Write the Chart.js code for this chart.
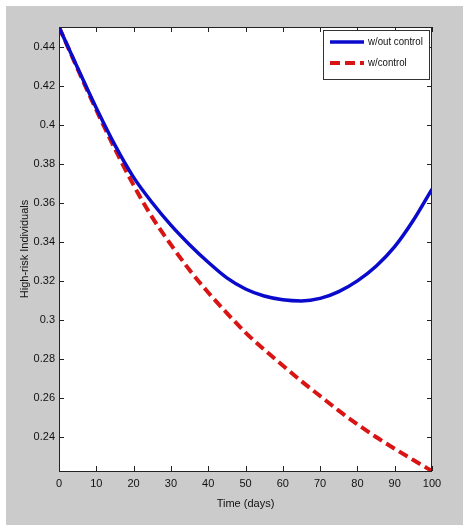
<!DOCTYPE html>
<html>
<head>
<meta charset="utf-8">
<script src="https://cdn.jsdelivr.net/npm/chart.js@4.4.0/dist/chart.umd.min.js"></script>
<style>
  html, body { margin: 0; padding: 0; background: #fff; }
  #wrap { width: 463px; height: 527px; }
</style>
</head>
<body>
<div id="wrap"><canvas id="myChart" width="463" height="527"></canvas></div>
<script>
// dias
const dias = [0, 5, 10, 15, 20, 25, 30, 35, 40, 45, 50, 55, 60, 65, 70, 75, 80, 85, 90, 95, 100];
// sem controle (azul)
const semControle = [0.4500, 0.4290, 0.4085, 0.3895, 0.3730, 0.3600, 0.3485, 0.3385, 0.3295, 0.3215, 0.3158,
  0.3122, 0.3103, 0.3097, 0.3110, 0.3145, 0.3200, 0.3275, 0.3375, 0.3510, 0.3670];
// com controle (vermelho)
const comControle = [0.4500, 0.4285, 0.4075, 0.3875, 0.3690, 0.3525, 0.3385, 0.3255, 0.3140, 0.3035, 0.2935,
  0.2848, 0.2766, 0.2686, 0.2610, 0.2535, 0.2465, 0.2400, 0.2340, 0.2282, 0.2226];
const yTicks = [0.24, 0.26, 0.28, 0.3, 0.32, 0.34, 0.36, 0.38, 0.4, 0.42, 0.44];
const nomes = ["w/out control", "w/control"];

const fonte = "'Liberation Sans', Arial, sans-serif";
const pontos = (ys) => dias.map((d, i) => ({ x: d, y: ys[i] }));

// fundo cinza + ticks internos + caixa + legenda
const moldura = {
  id: "moldura",
  beforeDraw(chart) {
    const ctx = chart.ctx;
    ctx.save();
    ctx.fillStyle = "#fff";
    ctx.fillRect(0, 0, chart.width, chart.height);
    ctx.fillStyle = "#cbcbcb";
    ctx.fillRect(6, 6, chart.width - 6, chart.height - 8);
    const a = chart.chartArea;
    ctx.fillStyle = "#fff";
    ctx.fillRect(a.left, a.top, a.right - a.left, a.bottom - a.top);
    ctx.restore();
  },
  afterDraw(chart) {
    const ctx = chart.ctx;
    const a = chart.chartArea;
    const sx = chart.scales.x, sy = chart.scales.y;
    ctx.save();
    ctx.strokeStyle = "#222";
    ctx.lineWidth = 1;
    ctx.beginPath();
    sx.ticks.forEach((t) => {
      const px = Math.round(sx.getPixelForValue(t.value)) + 0.5;
      ctx.moveTo(px, a.bottom); ctx.lineTo(px, a.bottom - 5);
      ctx.moveTo(px, a.top); ctx.lineTo(px, a.top + 5);
    });
    sy.ticks.forEach((t) => {
      const py = Math.round(sy.getPixelForValue(t.value)) + 0.5;
      ctx.moveTo(a.left, py); ctx.lineTo(a.left + 5, py);
      ctx.moveTo(a.right, py); ctx.lineTo(a.right - 5, py);
    });
    ctx.stroke();
    ctx.strokeRect(a.left + 0.5, a.top + 0.5, a.right - a.left - 1, a.bottom - a.top);

    // legenda
    const lx = 323, ly = 30, lw = 106, lh = 49;
    ctx.fillStyle = "#fff";
    ctx.fillRect(lx, ly, lw, lh);
    ctx.strokeStyle = "#333";
    ctx.strokeRect(lx + 0.5, ly + 0.5, lw, lh);
    chart.data.datasets.forEach((ds, i) => {
      const yy = ly + 12 + i * 21;
      ctx.strokeStyle = ds.borderColor;
      ctx.lineWidth = ds.borderWidth;
      ctx.setLineDash(ds.borderDash || []);
      ctx.beginPath();
      ctx.moveTo(lx + 7, yy); ctx.lineTo(lx + 41, yy);
      ctx.stroke();
      ctx.setLineDash([]);
      ctx.fillStyle = "#111";
      ctx.font = "11px " + fonte;
      ctx.textBaseline = "middle";
      // texto um pouco condensado, como no original
      ctx.save();
      ctx.translate(lx + 45, yy);
      ctx.scale(0.88, 1);
      ctx.fillText(ds.label, 0, 0);
      ctx.restore();
    });
    ctx.restore();
  },
};

const ctx = document.getElementById("myChart").getContext("2d");
const grafico = new Chart(ctx, {
  type: "line",
  data: {
    datasets: [
      {
        label: nomes[0],
        data: pontos(semControle),
        borderColor: "#0a0acc",
        borderWidth: 3.5,
        pointRadius: 0,
        cubicInterpolationMode: "monotone",
      },
      {
        label: nomes[1],
        data: pontos(comControle),
        borderColor: "#d81414",
        borderWidth: 4,
        borderDash: [10, 5],
        pointRadius: 0,
        cubicInterpolationMode: "monotone",
      },
    ],
  },
  options: {
    responsive: false,
    animation: false,
    events: [],
    layout: { padding: { left: 6, top: 27, right: 31, bottom: 0 } },
    plugins: { legend: { display: false }, tooltip: { enabled: false } },
    scales: {
      x: {
        type: "linear",
        min: 0,
        max: 100,
        ticks: { stepSize: 10, color: "#111", font: { family: fonte, size: 11 }, padding: 6, maxRotation: 0 },
        grid: { display: false, drawTicks: false },
        border: { display: false },
        title: { display: true, text: "Time (days)", color: "#111", font: { family: fonte, size: 11 }, padding: { top: 0, bottom: 16 } },
        afterFit: (s) => { s.height = 56; },
      },
      y: {
        min: 0.2226,
        max: 0.45,
        afterBuildTicks: (s) => { s.ticks = yTicks.map((v) => ({ value: v })); },
        ticks: {
          color: "#111",
          font: { family: fonte, size: 11 },
          padding: 4,
          callback: (v) => String(Number(v.toFixed(2))),
        },
        grid: { display: false, drawTicks: false },
        border: { display: false },
        title: { display: true, text: "High-risk Individuals", color: "#111", font: { family: fonte, size: 11 }, padding: { top: 12, bottom: 0 } },
        afterFit: (s) => { s.width = 53; },
      },
    },
  },
  plugins: [moldura],
});
</script>
</body>
</html>
